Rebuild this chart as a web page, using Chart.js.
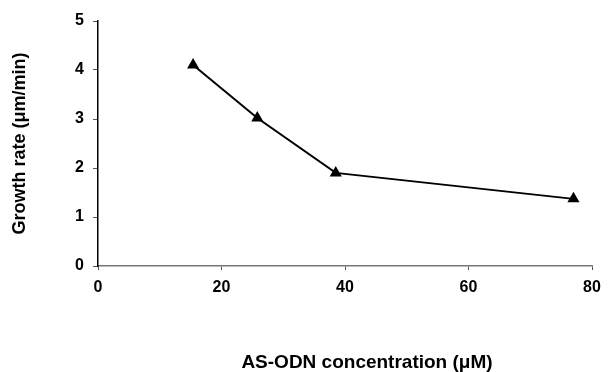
<!DOCTYPE html>
<html>
<head>
<meta charset="utf-8">
<script src="https://cdn.jsdelivr.net/npm/chart.js@4"></script>
<style>
  html, body { margin: 0; padding: 0; background: #fff; }
  #wrap { width: 616px; height: 372px; }
</style>
</head>
<body>
<div id="wrap"><canvas id="growthChart" width="616" height="372"></canvas></div>
<script>
// values
const concentrations = [15.4, 25.8, 38.5, 77];
const growthRates = [4.1, 3.02, 1.9, 1.37];
const xTicks = [0, 20, 40, 60, 80];
const yTicks = [0, 1, 2, 3, 4, 5];

const xTitle = 'AS-ODN concentration (\u03bcM)';
const yTitle = 'Growth rate (\u03bcm/min)';

const fontFam = '"Liberation Sans", Arial, sans-serif';

const points = concentrations.map((x, i) => ({ x: x, y: growthRates[i] }));

// x title sits a bit right of the plot centre in the original
const xTitlePlugin = {
  id: 'xTitle',
  afterDraw(chart) {
    const c = chart.ctx;
    const area = chart.chartArea;
    c.save();
    c.font = 'bold 19px ' + fontFam;
    c.fillStyle = '#000';
    c.textAlign = 'center';
    c.textBaseline = 'middle';
    c.fillText(xTitle, (area.left + area.right) / 2 + 22, 363);
    c.restore();
  }
};

const ctx = document.getElementById('growthChart').getContext('2d');
const growthChart = new Chart(ctx, {
  type: 'scatter',
  data: {
    datasets: [{
      data: points,
      showLine: true,
      borderColor: '#000',
      borderWidth: 2,
      backgroundColor: '#000',
      pointStyle: 'triangle',
      pointRadius: 7,
      pointBorderWidth: 0,
      tension: 0
    }]
  },
  options: {
    responsive: false,
    animation: false,
    devicePixelRatio: 1,
    layout: { padding: { top: 21, right: 24, left: 0, bottom: 0 } },
    plugins: { legend: { display: false }, tooltip: { enabled: false } },
    scales: {
      x: {
        type: 'linear',
        min: xTicks[0],
        max: xTicks[xTicks.length - 1],
        afterBuildTicks: s => { s.ticks = xTicks.map(v => ({ value: v })); },
        afterFit: s => { s.height = 106; },
        border: { color: '#777', width: 1.5 },
        grid: { drawOnChartArea: false, drawTicks: true, tickLength: 4, color: '#555' },
        ticks: { color: '#000', padding: 8, font: { family: fontFam, size: 16, weight: 'bold' } }
      },
      y: {
        type: 'linear',
        min: yTicks[0],
        max: yTicks[yTicks.length - 1],
        afterBuildTicks: s => { s.ticks = yTicks.map(v => ({ value: v })); },
        afterFit: s => { s.width = 98; },
        border: { color: '#000', width: 1.5 },
        grid: { drawOnChartArea: false, drawTicks: true, tickLength: 5, color: '#555' },
        ticks: { color: '#000', padding: 9, font: { family: fontFam, size: 16, weight: 'bold' } },
        title: {
          display: true, text: yTitle, color: '#000',
          padding: { top: 9, bottom: 0 },
          font: { family: fontFam, size: 18, weight: 'bold' }
        }
      }
    }
  },
  plugins: [xTitlePlugin]
});
</script>
</body>
</html>
